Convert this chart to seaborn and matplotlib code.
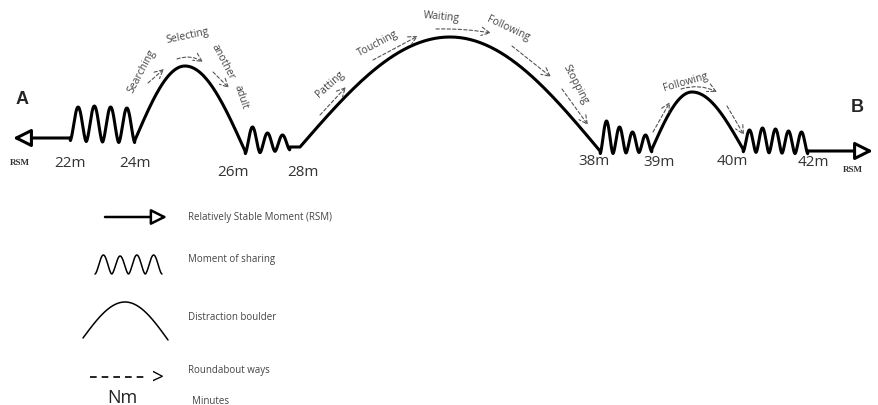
import numpy as np
import matplotlib

matplotlib.use("Agg")
import matplotlib.pyplot as plt
import seaborn as sns

# timeline pieces, left to right (pixel space of the original drawing)
seg_kinds = ["rsm", "sharing", "rise", "fall", "sharing", "flat", "rise", "fall",
             "sharing", "rise", "fall", "sharing", "rsm"]
knot_x = [13, 70, 135, 185, 245, 290, 300, 450, 600, 652, 692, 743, 808, 873]
knot_y = [139, 139, 141, 67, 152, 148, 148, 38, 152, 150, 93, 150, 152, 152]
sharing_peaks = [
    [108, 107, 108, 109],
    [128, 134, 136],
    [122, 128, 133, 136],
    [131, 129, 130, 132, 133],
]

minute_labels = ["22m", "24m", "26m", "28m", "38m", "39m", "40m", "42m"]
minute_x = [70, 135, 233, 303, 594, 659, 732, 813]
minute_y = [164, 164, 173, 173, 162, 163, 162, 163]

activities = ["Searching", "Selecting", "another", "adult", "Patting", "Touching",
              "Waiting", "Following", "Stopping", "Following"]
activity_xy = [(142, 71), (188, 36), (223, 62), (241, 97), (330, 84), (378, 44),
               (442, 17), (508, 29), (575, 85), (686, 82)]
activity_rot = [62, 12, -62, -72, 42, 28, -5, -25, -62, 16]

# dashed "roundabout" arrows (start, end, curvature)
dash_arrows = [
    ((148, 84), (164, 70), 0), ((177, 60), (203, 63), -0.25), ((213, 73), (229, 89), 0),
    ((320, 116), (346, 88), 0), ((373, 61), (418, 37), 0), ((436, 30), (491, 34), -0.05),
    ((512, 47), (551, 78), 0), ((562, 90), (588, 126), 0),
    ((653, 133), (670, 103), 0), ((681, 90), (717, 93), -0.2), ((727, 107), (744, 136), 0),
]

legend_labels = ["Relatively Stable Moment (RSM)", "Moment of sharing",
                 "Distraction boulder", "Roundabout ways", "Minutes"]


def squiggle(x0, x1, y0, y1, peaks, dip=3, n=40):
    xs, ys = [], []
    w = (x1 - x0) / len(peaks)
    for i, p in enumerate(peaks):
        t = np.linspace(0, 1, n)
        x = x0 + (i + t) * w
        base = y0 + (y1 - y0) * (i + t) / len(peaks) + dip
        y = base - (base - p) * (0.5 - 0.5 * np.cos(2 * np.pi * t)) ** 0.85
        if i == 0:
            y[0] = y0
        xs.extend(x)
        ys.extend(y)
    ys[-1] = y1
    return xs, ys


def hump(xs, ys, xe, ye, kind, n=60):
    t = np.linspace(0, 1, n)
    x = xs + (xe - xs) * t
    if kind == "rise":
        y = ys + (ye - ys) * np.sin(np.pi * t / 2)
    else:
        y = ys + (ye - ys) * (1 - np.cos(np.pi * t / 2))
    return list(x), list(y)


sns.set_theme(style="white")
plt.rcParams["font.family"] = ["Open Sans", "DejaVu Sans"]

fig = plt.figure(figsize=(8.79, 4.06), dpi=100)
ax = fig.add_axes([0, 0, 1, 1])
ax.set_xlim(0, 879)
ax.set_ylim(406, 0)
ax.axis("off")

px, py = [], []
k = 0
for i, kind in enumerate(seg_kinds):
    x0, y0, x1, y1 = knot_x[i], knot_y[i], knot_x[i + 1], knot_y[i + 1]
    if kind == "sharing":
        sx, sy = squiggle(x0, x1, y0, y1, sharing_peaks[k])
        k += 1
    elif kind in ("rise", "fall"):
        sx, sy = hump(x0, y0, x1, y1, kind)
    else:
        sx, sy = [x0, x1], [y0, y1]
    px.extend(sx)
    py.extend(sy)

sns.lineplot(x=px[2:-2], y=py[2:-2], sort=False, estimator=None, color="black",
             lw=2.2, ax=ax)

# RSM arrows at both ends
head = dict(arrowstyle="-|>,head_length=0.9,head_width=0.45", fc="white", ec="black",
            lw=2.2, shrinkA=0, shrinkB=0)
ax.annotate("", xy=(knot_x[0], knot_y[0]), xytext=(knot_x[1], knot_y[1]), arrowprops=head)
ax.annotate("", xy=(knot_x[-1], knot_y[-1]), xytext=(knot_x[-2], knot_y[-2]), arrowprops=head)

ax.text(22, 100, "A", fontsize=13, fontweight="bold", ha="center", va="center",
        family="Liberation Sans")
ax.text(857, 107, "B", fontsize=13, fontweight="bold", ha="center", va="center",
        family="Liberation Sans")
ax.text(20, 163, "RSM", fontsize=6.5, fontweight="bold", ha="center", va="center",
        family="Liberation Serif", color="#333")
ax.text(853, 170, "RSM", fontsize=6.5, fontweight="bold", ha="center", va="center",
        family="Liberation Serif", color="#333")

for lab, x, y in zip(minute_labels, minute_x, minute_y):
    ax.text(x, y, lab, fontsize=11, ha="center", va="center", color="#333")

for lab, (x, y), r in zip(activities, activity_xy, activity_rot):
    ax.text(x, y, lab, fontsize=7.5, ha="center", va="center", rotation=r,
            rotation_mode="anchor", color="#444")

for (s, e, rad) in dash_arrows:
    ax.annotate("", xy=e, xytext=s,
                arrowprops=dict(arrowstyle="->,head_length=0.5,head_width=0.25",
                                color="#555", lw=0.8, ls=(0, (3, 2)),
                                connectionstyle=f"arc3,rad={rad}",
                                shrinkA=0, shrinkB=0))

# legend block
ax.annotate("", xy=(167, 218), xytext=(105, 218),
            arrowprops=dict(arrowstyle="-|>,head_length=0.8,head_width=0.4", fc="white",
                            ec="black", lw=1.8, shrinkA=0, shrinkB=0))
lx, ly = squiggle(95, 162, 275, 275, [256, 257, 256, 256], dip=0)
sns.lineplot(x=lx, y=ly, sort=False, estimator=None, color="black", lw=1.1, ax=ax)
ax_, ay_ = hump(83, 339, 125, 303, "rise")
bx_, by_ = hump(125, 303, 168, 341, "fall")
sns.lineplot(x=ax_ + bx_, y=ay_ + by_, sort=False, estimator=None, color="black",
             lw=1.1, ax=ax)
sns.lineplot(x=[90, 148], y=[378, 378], sort=False, estimator=None, color="black",
             lw=1.2, ls=(0, (4, 3)), ax=ax)
ax.text(158, 378, ">", fontsize=15, ha="center", va="center", color="black")
ax.text(122, 398, "Nm", fontsize=13, ha="center", va="center", color="#222")

legend_y = [218, 260, 318, 371, 402]
for lab, y in zip(legend_labels, legend_y):
    x = 192 if lab == "Minutes" else 188
    ax.text(x, y, lab, fontsize=7, ha="left", va="center", color="#444")

fig.savefig("out.png", dpi=100)
